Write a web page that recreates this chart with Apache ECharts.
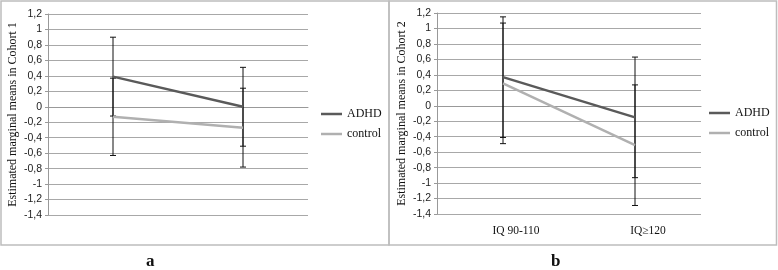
<!DOCTYPE html>
<html><head><meta charset="utf-8">
<script src="https://cdn.jsdelivr.net/npm/echarts@6/dist/echarts.min.js"></script>
<style>html,body{margin:0;padding:0;background:#fff}#c{width:778px;height:270px}</style>
</head><body><div id="c"></div>
<script>
const categories = ['IQ 90-110', 'IQ≥120'];
const yTicks = { min: -1.4, max: 1.2, step: 0.2 };

// Panel a (Cohort 1)
const aADHD = [0.39, 0.0];
const aControl = [-0.13, -0.27];
const aADHDLow = [-0.12, -0.51], aADHDHigh = [0.90, 0.51];
const aControlLow = [-0.63, -0.78], aControlHigh = [0.37, 0.24];

// Panel b (Cohort 2)
const bADHD = [0.37, -0.15];
const bControl = [0.29, -0.51];
const bADHDLow = [-0.41, -0.93], bADHDHigh = [1.15, 0.63];
const bControlLow = [-0.49, -1.29], bControlHigh = [1.07, 0.27];

const seriesNames = ['ADHD', 'control'];
const panelTitles = ['Estimated marginal means in Cohort 1', 'Estimated marginal means in Cohort 2'];
const panelLetters = ['a', 'b'];

const darkC = '#5a5a5a', lightC = '#b0b0b0', gridC = '#a8a8a8';

function errData(low, high) { return low.map((l, i) => [i, l, high[i]]); }
function errSeries(idx, low, high) {
  return {
    type: 'custom', xAxisIndex: idx, yAxisIndex: idx, z: 1, silent: true,
    data: errData(low, high),
    renderItem: function (params, api) {
      const x = api.value(0);
      const lo = api.coord([x, api.value(1)]);
      const hi = api.coord([x, api.value(2)]);
      const w = 3;
      const st = { stroke: '#111', lineWidth: 1 };
      return { type: 'group', children: [
        { type: 'line', shape: { x1: lo[0], y1: lo[1], x2: hi[0], y2: hi[1] }, style: st },
        { type: 'line', shape: { x1: lo[0] - w, y1: lo[1], x2: lo[0] + w, y2: lo[1] }, style: st },
        { type: 'line', shape: { x1: hi[0] - w, y1: hi[1], x2: hi[0] + w, y2: hi[1] }, style: st }
      ]};
    }
  };
}
function lineSeries(idx, name, data, color) {
  return { type: 'line', name: name, xAxisIndex: idx, yAxisIndex: idx, data: data, z: 3,
    symbol: 'none', showSymbol: false, color: color, itemStyle: { color: color },
    lineStyle: { color: color, width: 2.5 } };
}
const fmt = v => { const r = Math.round(v * 10) / 10; return (r === 0 ? '0' : String(r)).replace('.', ','); };

function yAxis(idx) {
  return {
    type: 'value', gridIndex: idx, min: yTicks.min, max: yTicks.max, interval: yTicks.step,
    name: panelTitles[idx], nameLocation: 'middle', nameGap: 29,
    nameTextStyle: { fontFamily: 'Liberation Serif', fontSize: 12, color: '#111' },
    axisLine: { show: true, lineStyle: { color: '#999' } },
    axisTick: { show: true, length: 3, lineStyle: { color: '#999' } },
    axisLabel: { formatter: fmt, fontFamily: 'Liberation Sans', fontSize: 10.5, color: '#222', margin: 6 },
    splitLine: { lineStyle: { color: gridC, width: 1 } }
  };
}
function xAxis(idx, showLabels) {
  return {
    type: 'category', gridIndex: idx, data: categories, boundaryGap: true,
    axisLine: { show: true, lineStyle: { color: '#999' } },
    axisTick: { show: false },
    axisLabel: { show: showLabels, fontFamily: 'Liberation Serif', fontSize: 11.5, color: '#111', margin: 11, padding: [0, 0, 0, 26] },
    splitLine: { show: false }
  };
}
function legend(left, top) {
  return { data: seriesNames, orient: 'vertical', left: left, top: top, icon: 'rect', padding: 0,
    itemWidth: 21, itemHeight: 2.5, itemGap: 6,
    textStyle: { fontFamily: 'Liberation Serif', fontSize: 12, color: '#111', lineHeight: 14 } };
}

const chart = echarts.init(document.getElementById('c'), null, { renderer: 'canvas' });
chart.setOption({
  backgroundColor: '#fff',
  animation: false,
  grid: [
    { left: 48, top: 14, width: 260, height: 201 },
    { left: 437, top: 13, width: 264, height: 201 }
  ],
  xAxis: [xAxis(0, false), xAxis(1, true)],
  yAxis: [yAxis(0), yAxis(1)],
  legend: [legend(321, 107), legend(709, 106)],
  graphic: [
    { type: 'rect', shape: { x: 1, y: 1, width: 388, height: 244 }, style: { fill: 'none', stroke: '#bdbdbd', lineWidth: 1.5 }, z: 0 },
    { type: 'rect', shape: { x: 389, y: 1, width: 387.5, height: 244 }, style: { fill: 'none', stroke: '#bdbdbd', lineWidth: 1.5 }, z: 0 },
    { type: 'text', left: 146, top: 253, style: { text: panelLetters[0], font: 'bold 17px "Liberation Serif"', fill: '#111' } },
    { type: 'text', left: 551, top: 253, style: { text: panelLetters[1], font: 'bold 17px "Liberation Serif"', fill: '#111' } }
  ],
  series: [
    errSeries(0, aADHDLow, aADHDHigh),
    errSeries(0, aControlLow, aControlHigh),
    lineSeries(0, seriesNames[0], aADHD, darkC),
    lineSeries(0, seriesNames[1], aControl, lightC),
    errSeries(1, bADHDLow, bADHDHigh),
    errSeries(1, bControlLow, bControlHigh),
    lineSeries(1, seriesNames[0], bADHD, darkC),
    lineSeries(1, seriesNames[1], bControl, lightC)
  ]
});
</script></body></html>
